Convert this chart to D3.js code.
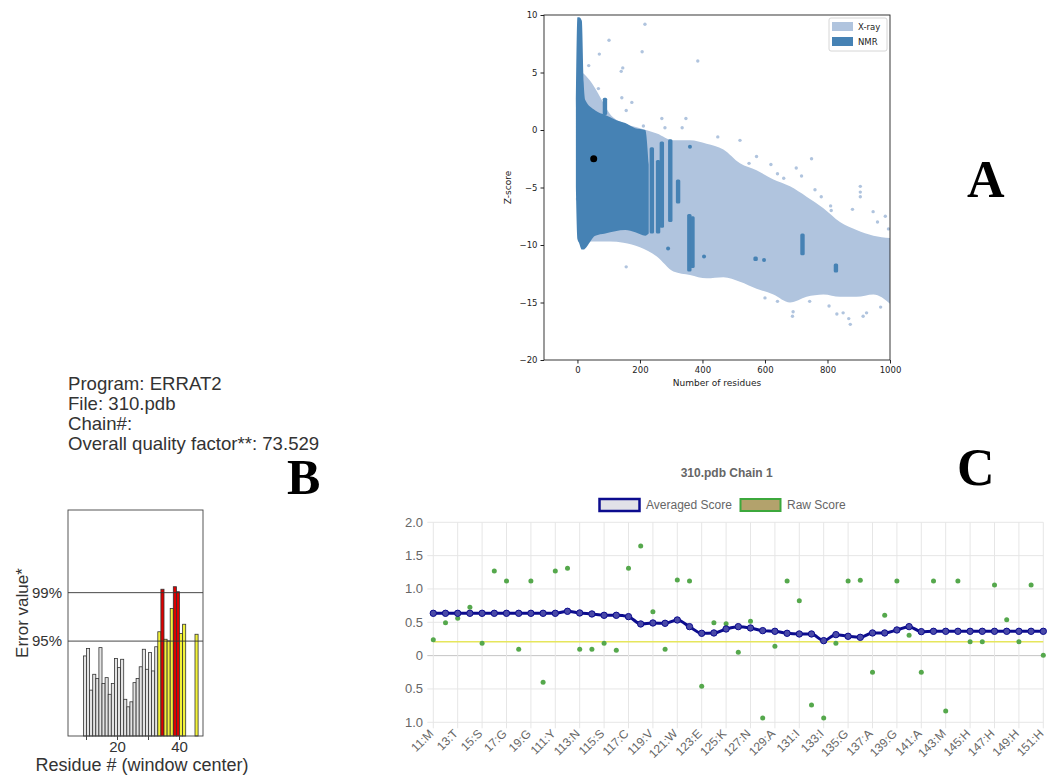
<!DOCTYPE html>
<html><head><meta charset="utf-8">
<script src="https://cdn.jsdelivr.net/npm/d3@7"></script>
<style>body{margin:0;background:#fff} svg{display:block}</style>
</head><body>
<svg id="fig" width="1047" height="777"></svg>
<script>
// ---------------- Panel A data (Z-score vs number of residues) ----------------
const xrayEnvX  = [0, 15, 40, 72, 104, 147, 200, 254, 307, 360, 413, 467, 520, 573, 627, 680, 733, 787, 840, 893, 947, 1000];
const xrayEnvHi = [5.2, 5.0, 4.3, 2.9, 1.4, 0.6, 0.15, -0.3, -0.9, -0.9, -1.2, -1.7, -2.9, -3.5, -4.3, -4.9, -5.8, -6.8, -8.0, -8.7, -9.2, -9.4];
const xrayEnvLo = [-7, -9.6, -9.7, -9.7, -9.7, -9.8, -10.2, -11.0, -12.3, -12.6, -12.9, -12.8, -13.2, -13.8, -14.3, -15.0, -14.5, -14.3, -14.5, -14.5, -14.3, -15.1];
const nmrEnvX  = [-5, 0, 5, 14, 20, 25, 57, 89, 121, 153, 185, 217, 228];
const nmrEnvHi = [2, 9.8, 9.8, 9.5, 4.1, 2.6, 1.7, 1.3, 0.9, 0.6, 0.15, 0, -3];
const nmrEnvLo = [-5, -9.5, -9.8, -10.4, -10.4, -10.3, -9.2, -9.0, -8.8, -8.7, -8.9, -9.2, -9.0];
const nmrStreaks = [[88,1.3,2.8],[238,-9.0,-1.5],[258,-9.0,-2.6],[270,-8.5,-1.0],[297,-8.0,-0.8],[322,-6.4,-4.3],[358,-12.3,-7.3],[368,-12.0,-7.5],[570,-11.4,-11.0],[720,-10.9,-9.0],[827,-12.4,-11.6]];
const xrayOutliers = [[216,9.2],[101,7.8],[207,6.8],[385,6.0],[70,6.6],[145,5.4],[140,5.1],[36,5.6],[67,3.6],[142,2.8],[174,2.4],[156,1.7],[270,1.0],[347,1.0],[211,0.35],[280,0.2],[335,0.2],[449,-0.6],[520,-0.9],[573,-2.3],[619,-3.0],[749,-2.5],[549,-2.9],[700,-3.3],[717,-4.0],[156,-11.9],[0,-6.0],[743,-14.9],[688,-16.2],[690,-15.8],[850,-15.9],[873,-16.9],[868,-16.4],[914,-16.2],[925,-15.9],[805,-15.3],[946,-7.1],[970,-15.4],[1000,-12.6],[905,-4.9],[905,-5.4],[905,-5.8],[810,-6.6],[812,-7.0],[760,-5.2],[780,-5.8],[640,-3.8],[660,-4.2],[880,-6.9],[960,-8.0],[985,-7.5],[995,-8.6],[830,-16.0],[600,-14.6],[640,-14.9]];
const nmrOutliers = [[360,-1.45],[405,-11.0],[597,-11.3],[290,-10.3]];
const highlightPoint = [52, -2.5];
const aXTicks = [0, 200, 400, 600, 800, 1000];
const aYTicks = [-20, -15, -10, -5, 0, 5, 10];
const aLegend = ["X-ray", "NMR"];

// ---------------- Panel B data (ERRAT2) ----------------
const errInfo = ["Program: ERRAT2", "File: 310.pdb", "Chain#:", "Overall quality factor**: 73.529"];
const errResidues = [10,11,12,13,14,15,16,17,18,19,20,21,22,23,24,25,26,27,28,29,30,31,32,33,34,35,36,37,38,39,40,41,42,46];
const errValues = [9.6,10.5,5.5,7.4,6.9,10.6,6.3,7.0,5.0,6.3,9.3,8.2,9.2,4.4,3.5,4.1,6.4,6.9,8.3,10.4,8.0,10.0,7.8,10.7,12.5,17.6,11.6,11.4,15.3,17.9,17.3,12.3,13.4,12.2];
const errThresholds = [{label:"95%", value:11.38}, {label:"99%", value:17.19}];
const errXTicks = [10, 20, 30, 40];
const errXLabels = {20:"20", 40:"40"};

// ---------------- Panel C data (averaged / raw score) ----------------
const resIndex = d3.range(1, 52);
const avgScore = [0.635,0.635,0.635,0.635,0.635,0.635,0.635,0.635,0.635,0.635,0.635,0.665,0.64,0.625,0.605,0.605,0.585,0.475,0.49,0.485,0.535,0.435,0.335,0.34,0.40,0.435,0.415,0.375,0.365,0.335,0.325,0.325,0.225,0.315,0.29,0.275,0.34,0.34,0.385,0.435,0.36,0.365,0.365,0.365,0.365,0.365,0.365,0.365,0.365,0.365,0.365];
const rawScore = [0.24,0.495,0.56,0.725,0.185,1.27,1.12,0.095,1.12,-0.40,1.27,1.31,0.095,0.095,0.185,0.08,1.31,1.645,0.66,0.095,1.135,1.12,-0.46,0.495,0.48,0.05,0.515,-0.935,0.14,1.12,0.825,-0.74,-0.935,0.185,1.12,1.13,-0.25,0.605,1.12,0.305,-0.25,1.12,-0.83,1.12,0.21,0.21,1.06,0.54,0.21,1.06,0.005];
const cXLabels = ["11:M","13:T","15:S","17:G","19:G","111:Y","113:N","115:S","117:C","119:V","121:W","123:E","125:K","127:N","129:A","131:I","133:I","135:G","137:A","139:G","141:A","143:M","145:H","147:H","149:H","151:H"];
const cYTicks = [-1, -0.5, 0, 0.5, 1, 1.5, 2];
const cYLabels = ["1.0","0.5","0","0.5","1.0","1.5","2.0"];
const cThreshold = 0.21;
const cTitle = "310.pdb Chain 1";
const cLegend = ["Averaged Score", "Raw Score"];

// =====================================================================
const svg = d3.select("#fig");
svg.append("rect").attr("width",1047).attr("height",777).attr("fill","#fff");

// ---------------- Panel A ----------------
(function(){
  const L=544, R=890, T=15, B=360;
  const x = d3.scaleLinear().domain([-107,1000]).range([L,R]);
  const y = d3.scaleLinear().domain([-20,10]).range([B,T]);
  const light = "#b0c4de", dark = "#4682b4";
  svg.append("clipPath").attr("id","clipA").append("rect").attr("x",L).attr("y",T).attr("width",R-L).attr("height",B-T);
  const g = svg.append("g").attr("clip-path","url(#clipA)");
  const area = (X,H,Lo)=>d3.area().x((d,i)=>x(X[i])).y0((d,i)=>y(Lo[i])).y1((d,i)=>y(H[i])).curve(d3.curveMonotoneX)(X);
  g.append("path").attr("d",area(xrayEnvX,xrayEnvHi,xrayEnvLo)).attr("fill",light);
  g.selectAll(".xo").data(xrayOutliers).join("circle").attr("cx",d=>x(d[0])).attr("cy",d=>y(d[1])).attr("r",1.7).attr("fill",light);
  g.append("path").attr("d",area(nmrEnvX,nmrEnvHi,nmrEnvLo)).attr("fill",dark);
  g.selectAll(".ns").data(nmrStreaks).join("rect").attr("x",d=>x(d[0])-2.2).attr("width",4.4)
    .attr("y",d=>y(d[2])).attr("height",d=>Math.max(2,y(d[1])-y(d[2]))).attr("rx",1.5).attr("fill",dark);
  g.selectAll(".no").data(nmrOutliers).join("circle").attr("cx",d=>x(d[0])).attr("cy",d=>y(d[1])).attr("r",2).attr("fill",dark);
  g.append("circle").attr("cx",x(highlightPoint[0])).attr("cy",y(highlightPoint[1])).attr("r",3.5).attr("fill","#000");

  const font = "'DejaVu Sans', sans-serif";
  const ax = svg.append("g").attr("transform",`translate(0,${B})`).call(d3.axisBottom(x).tickValues(aXTicks).tickFormat(d3.format("d")).tickSize(3.5).tickSizeOuter(0));
  const ay = svg.append("g").attr("transform",`translate(${L},0)`).call(d3.axisLeft(y).tickValues(aYTicks).tickSize(3.5).tickSizeOuter(0));
  [ax,ay].forEach(a=>{a.select(".domain").remove(); a.selectAll("text").attr("font-family",font).attr("font-size",8.5).attr("fill","#222"); a.selectAll("line").attr("stroke","#222");});
  svg.append("rect").attr("x",L).attr("y",T).attr("width",R-L).attr("height",B-T).attr("fill","none").attr("stroke","#222").attr("stroke-width",0.9);
  svg.append("text").attr("x",(L+R)/2).attr("y",386).attr("text-anchor","middle").attr("font-family",font).attr("font-size",9).attr("fill","#222").text("Number of residues");
  svg.append("text").attr("transform",`translate(511,${(T+B)/2}) rotate(-90)`).attr("text-anchor","middle").attr("font-family",font).attr("font-size",9).attr("fill","#222").text("Z-score");
  // legend
  const lg = svg.append("g");
  lg.append("rect").attr("x",829).attr("y",18).attr("width",58).attr("height",33).attr("rx",2).attr("fill","#fff").attr("stroke","#ccc").attr("stroke-width",0.8);
  [light,dark].forEach((c,i)=>{
    lg.append("rect").attr("x",832).attr("y",22+i*15).attr("width",21).attr("height",9).attr("fill",c);
    lg.append("text").attr("x",858).attr("y",30+i*15).attr("font-family",font).attr("font-size",8.5).attr("fill","#222").text(aLegend[i]);
  });
})();

// ---------------- Panel B ----------------
(function(){
  const font = "'Liberation Sans', Arial, sans-serif";
  errInfo.forEach((t,i)=>svg.append("text").attr("x",68).attr("y",390+i*20).attr("font-family",font).attr("font-size",18.6).attr("fill","#333").text(t));
  const L=68, R=203, T=510, B=736;
  const x = d3.scaleLinear().domain([4.03,47.58]).range([L,R]);
  const y = d3.scaleLinear().domain([0,27.1]).range([B,T]);
  const col = v => v > errThresholds[1].value ? "#dd0000" : (v > errThresholds[0].value ? "#f2f23a" : "#e4e4e4");
  svg.append("g").selectAll("rect").data(errResidues).join("rect")
    .attr("x",d=>x(d-1)).attr("width",d=>x(d)-x(d-1))
    .attr("y",(d,i)=>y(errValues[i])).attr("height",(d,i)=>B-y(errValues[i]))
    .attr("fill",(d,i)=>col(errValues[i])).attr("stroke","#333").attr("stroke-width",0.8);
  errThresholds.forEach(t=>{
    svg.append("line").attr("x1",L).attr("x2",R).attr("y1",y(t.value)).attr("y2",y(t.value)).attr("stroke","#333").attr("stroke-width",0.9);
    svg.append("text").attr("x",62).attr("y",y(t.value)+5).attr("text-anchor","end").attr("font-family",font).attr("font-size",15).attr("fill","#333").text(t.label);
  });
  svg.append("rect").attr("x",L).attr("y",T).attr("width",R-L).attr("height",B-T).attr("fill","none").attr("stroke","#444").attr("stroke-width",0.9);
  errXTicks.forEach(t=>{
    svg.append("line").attr("x1",x(t)).attr("x2",x(t)).attr("y1",B).attr("y2",B+4).attr("stroke","#444");
    if (errXLabels[t]) svg.append("text").attr("x",x(t)).attr("y",751.5).attr("text-anchor","middle").attr("font-family",font).attr("font-size",15).attr("fill","#333").text(errXLabels[t]);
  });
  svg.append("text").attr("x",142).attr("y",771).attr("text-anchor","middle").attr("font-family",font).attr("font-size",18).attr("fill","#333").text("Residue # (window center)");
  svg.append("text").attr("transform","translate(28,613) rotate(-90)").attr("text-anchor","middle").attr("font-family",font).attr("font-size",17).attr("fill","#333").text("Error value*");
})();

// ---------------- Panel C ----------------
(function(){
  const font = "'Liberation Sans', Arial, sans-serif";
  const L=433.3, R=1043.3, T=522.3, B=722.3;
  const x = d3.scaleLinear().domain([1,51]).range([L,R]);
  const y = d3.scaleLinear().domain([-1,2]).range([B,T]);
  const grid = svg.append("g");
  cYTicks.forEach((t,i)=>{
    grid.append("line").attr("x1",L-6).attr("x2",R).attr("y1",y(t)).attr("y2",y(t)).attr("stroke",t===0?"#c4c4c4":"#e6e6e6").attr("stroke-width",1);
    svg.append("text").attr("x",423).attr("y",y(t)+4.5).attr("text-anchor","end").attr("font-family",font).attr("font-size",13).attr("fill","#666").text(cYLabels[i]);
  });
  cXLabels.forEach((lab,k)=>{
    const xi = x(1+2*k);
    grid.append("line").attr("x1",xi).attr("x2",xi).attr("y1",T).attr("y2",B+6).attr("stroke","#e6e6e6").attr("stroke-width",1);
    svg.append("text").attr("transform",`translate(${xi+1},${B+12}) rotate(-45)`).attr("text-anchor","end").attr("font-family",font).attr("font-size",12).attr("fill","#666").text(lab);
  });
  svg.append("line").attr("x1",L).attr("x2",R).attr("y1",y(cThreshold)).attr("y2",y(cThreshold)).attr("stroke","#e6e65c").attr("stroke-width",1.5);
  svg.append("g").selectAll("circle").data(resIndex).join("circle").attr("cx",d=>x(d)).attr("cy",(d,i)=>y(rawScore[i])).attr("r",2.5).attr("fill","#55a84c");
  const navy = "#0c0c8e";
  svg.append("path").attr("d",d3.line().x(d=>x(d)).y((d,i)=>y(avgScore[i])).curve(d3.curveMonotoneX)(resIndex)).attr("fill","none").attr("stroke",navy).attr("stroke-width",3);
  svg.append("g").selectAll("circle").data(resIndex).join("circle").attr("cx",d=>x(d)).attr("cy",(d,i)=>y(avgScore[i])).attr("r",3.2).attr("fill","#4a4aa8").attr("stroke",navy).attr("stroke-width",1);
  svg.append("text").attr("x",726.7).attr("y",477).attr("text-anchor","middle").attr("font-family",font).attr("font-weight","bold").attr("font-size",12).attr("fill","#666").text(cTitle);
  svg.append("rect").attr("x",599.5).attr("y",499).attr("width",40).attr("height",12).attr("fill","#e2e2e8").attr("stroke",navy).attr("stroke-width",2.5);
  svg.append("text").attr("x",646).attr("y",509).attr("font-family",font).attr("font-size",12).attr("fill","#666").text(cLegend[0]);
  svg.append("rect").attr("x",740.5).attr("y",499).attr("width",40).attr("height",12).attr("fill","#b3a26c").attr("stroke","#3ca83c").attr("stroke-width",2);
  svg.append("text").attr("x",787).attr("y",509).attr("font-family",font).attr("font-size",12).attr("fill","#666").text(cLegend[1]);
})();

// ---------------- Panel letters ----------------
const serif = "'Liberation Serif', 'Times New Roman', serif";
[["A",967,197,52],["B",287,494,50],["C",957,485,52]].forEach(d=>
  svg.append("text").attr("x",d[1]).attr("y",d[2]).attr("font-family",serif).attr("font-weight","bold").attr("font-size",d[3]).attr("fill","#000").text(d[0]));
</script>
</body></html>
